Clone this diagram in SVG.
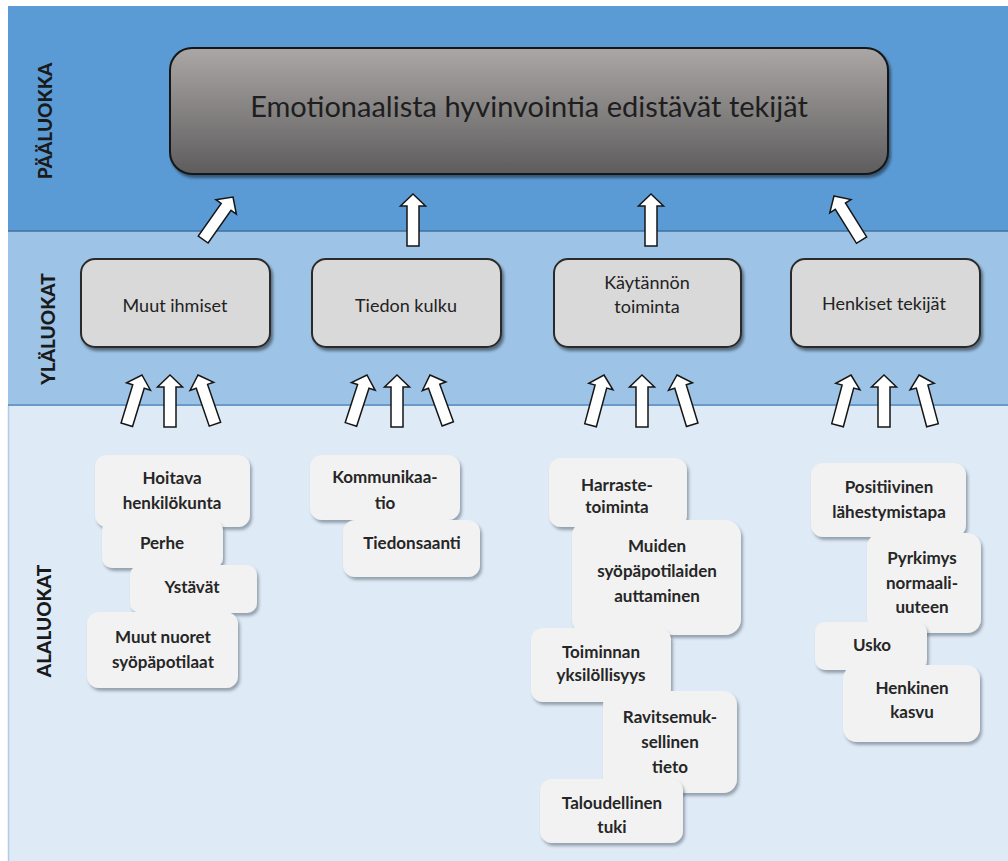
<svg xmlns="http://www.w3.org/2000/svg" width="1008" height="861" viewBox="0 0 1008 861">
<defs>
  <linearGradient id="gMain" x1="0" y1="0" x2="0" y2="1">
    <stop offset="0" stop-color="#aba7a6"/>
    <stop offset="1" stop-color="#5e5c5d"/>
  </linearGradient>
  <filter id="sh" x="-10%" y="-10%" width="130%" height="140%">
    <feDropShadow dx="2" dy="3" stdDeviation="1.5" flood-color="#000" flood-opacity="0.45"/>
  </filter>
  <filter id="sh2" x="-10%" y="-10%" width="130%" height="140%">
    <feDropShadow dx="2" dy="3" stdDeviation="1.6" flood-color="#3a4a5a" flood-opacity="0.45"/>
  </filter>
  <path id="arr" d="M0,0 L12.5,12 L6,12 L6,52 L-6,52 L-6,12 L-12.5,12 Z"/>
</defs>
<style>
  .lvl { font-family: Lato, "Liberation Sans", sans-serif; font-weight: 900; font-size: 19px; fill: #1a1a1a; text-anchor: middle; }
  .main { fill: url(#gMain); stroke: #161616; stroke-width: 2; filter: url(#sh); }
  .mid { fill: #d9d9d9; stroke: #2b2b2b; stroke-width: 2; filter: url(#sh); }
  .sub { fill: #f2f2f2; filter: url(#sh2); }
  .arrow { fill: #ffffff; stroke: #161616; stroke-width: 1.5; stroke-linejoin: miter; }
  .tmain { font-family: Lato, "Liberation Sans", sans-serif; font-size: 29px; fill: #1e1e1e; text-anchor: middle; }
  .tmid { font-family: Lato, "Liberation Sans", sans-serif; font-size: 18px; fill: #222; text-anchor: middle; }
  .tsub { font-family: Lato, "Liberation Sans", sans-serif; font-weight: bold; font-size: 17px; fill: #262626; text-anchor: middle; }
</style>

<g id="bands">
  <rect x="8" y="6" width="1000" height="225" fill="#5b9bd5"/>
  <rect x="8" y="231" width="1000" height="175" fill="#9dc3e6"/>
  <rect x="8" y="406" width="1000" height="455" fill="#deeaf6"/>
  <line x1="8" y1="231" x2="1008" y2="231" stroke="#41719c" stroke-width="1.5"/>
  <line x1="8" y1="405" x2="1008" y2="405" stroke="#5a8cc0" stroke-width="1.5"/>
  <line x1="8.5" y1="406" x2="8.5" y2="861" stroke="#b4cbe6" stroke-width="1.5"/>
  <text class="lvl" transform="translate(52,121) rotate(-90)">PÄÄLUOKKA</text>
  <text class="lvl" transform="translate(55,329) rotate(-90)">YLÄLUOKAT</text>
  <text class="lvl" transform="translate(51,621) rotate(-90)">ALALUOKAT</text>
</g>

<g id="connectors">
  <use href="#arr" class="arrow" transform="translate(233,197) rotate(35)"/>
  <use href="#arr" class="arrow" transform="translate(413,194)"/>
  <use href="#arr" class="arrow" transform="translate(651,194)"/>
  <use href="#arr" class="arrow" transform="translate(834,196) rotate(-32)"/>

  <use href="#arr" class="arrow" transform="translate(142,375) rotate(17)"/>
  <use href="#arr" class="arrow" transform="translate(170,375)"/>
  <use href="#arr" class="arrow" transform="translate(198,375) rotate(-19)"/>

  <use href="#arr" class="arrow" transform="translate(367,375) rotate(18)"/>
  <use href="#arr" class="arrow" transform="translate(397,375)"/>
  <use href="#arr" class="arrow" transform="translate(430,375) rotate(-20)"/>

  <use href="#arr" class="arrow" transform="translate(604,375) rotate(15)"/>
  <use href="#arr" class="arrow" transform="translate(642,375)"/>
  <use href="#arr" class="arrow" transform="translate(677,375) rotate(-17)"/>

  <use href="#arr" class="arrow" transform="translate(851,375) rotate(15)"/>
  <use href="#arr" class="arrow" transform="translate(884,375)"/>
  <use href="#arr" class="arrow" transform="translate(919,375) rotate(-15)"/>
</g>

<g id="n-main">
  <rect class="main" x="170" y="48" width="718" height="126" rx="22"/>
  <text class="tmain" x="529" y="117">Emotionaalista hyvinvointia edistävät tekijät</text>
</g>

<g id="n-muut-ihmiset">
  <rect class="mid" x="81" y="259" width="189" height="88" rx="14"/>
  <text class="tmid" x="175" y="312">Muut ihmiset</text>
</g>
<g id="n-tiedon-kulku">
  <rect class="mid" x="312" y="259" width="189" height="88" rx="14"/>
  <text class="tmid" x="406" y="312">Tiedon kulku</text>
</g>
<g id="n-kaytannon-toiminta">
  <rect class="mid" x="554" y="259" width="187" height="88" rx="14"/>
  <text class="tmid" x="647" y="289">Käytännön</text>
  <text class="tmid" x="647" y="313">toiminta</text>
</g>
<g id="n-henkiset-tekijat">
  <rect class="mid" x="791" y="259" width="189" height="88" rx="14"/>
  <text class="tmid" x="884" y="310">Henkiset tekijät</text>
</g>

<g id="n-hoitava">
  <rect class="sub" x="95" y="455" width="155" height="72" rx="12"/>
  <text class="tsub" x="172" y="484">Hoitava</text>
  <text class="tsub" x="172" y="509">henkilökunta</text>
</g>
<g id="n-perhe">
  <rect class="sub" x="102" y="520" width="121" height="48" rx="10"/>
  <text class="tsub" x="162" y="549">Perhe</text>
</g>
<g id="n-ystavat">
  <rect class="sub" x="130" y="565" width="127" height="48" rx="10"/>
  <text class="tsub" x="192" y="593">Ystävät</text>
</g>
<g id="n-muut-nuoret">
  <rect class="sub" x="87" y="612" width="151" height="76" rx="12"/>
  <text class="tsub" x="163" y="643">Muut nuoret</text>
  <text class="tsub" x="163" y="668">syöpäpotilaat</text>
</g>

<g id="n-kommunikaatio">
  <rect class="sub" x="310" y="455" width="150" height="65" rx="12"/>
  <text class="tsub" x="385" y="483">Kommunikaa-</text>
  <text class="tsub" x="385" y="509">tio</text>
</g>
<g id="n-tiedonsaanti">
  <rect class="sub" x="343" y="520" width="137" height="57" rx="12"/>
  <text class="tsub" x="412" y="549">Tiedonsaanti</text>
</g>

<g id="n-harrastetoiminta">
  <rect class="sub" x="549" y="458" width="138" height="69" rx="12"/>
  <text class="tsub" x="617" y="491">Harraste-</text>
  <text class="tsub" x="617" y="513">toiminta</text>
</g>
<g id="n-muiden-auttaminen">
  <rect class="sub" x="572" y="520" width="169" height="115" rx="16"/>
  <text class="tsub" x="657" y="552">Muiden</text>
  <text class="tsub" x="657" y="577">syöpäpotilaiden</text>
  <text class="tsub" x="657" y="602">auttaminen</text>
</g>
<g id="n-toiminnan-yksilollisyys">
  <rect class="sub" x="531" y="628" width="140" height="74" rx="12"/>
  <text class="tsub" x="601" y="658">Toiminnan</text>
  <text class="tsub" x="601" y="681">yksilöllisyys</text>
</g>
<g id="n-ravitsemuksellinen">
  <rect class="sub" x="603" y="691" width="134" height="102" rx="14"/>
  <text class="tsub" x="670" y="723">Ravitsemuk-</text>
  <text class="tsub" x="670" y="748">sellinen</text>
  <text class="tsub" x="670" y="773">tieto</text>
</g>
<g id="n-taloudellinen-tuki">
  <rect class="sub" x="540" y="779" width="143" height="64" rx="12"/>
  <text class="tsub" x="612" y="809">Taloudellinen</text>
  <text class="tsub" x="612" y="833">tuki</text>
</g>

<g id="n-positiivinen">
  <rect class="sub" x="811" y="463" width="155" height="74" rx="12"/>
  <text class="tsub" x="889" y="493">Positiivinen</text>
  <text class="tsub" x="889" y="518">lähestymistapa</text>
</g>
<g id="n-pyrkimys">
  <rect class="sub" x="867" y="533" width="114" height="100" rx="14"/>
  <text class="tsub" x="922" y="564">Pyrkimys</text>
  <text class="tsub" x="922" y="589">normaali-</text>
  <text class="tsub" x="922" y="613">uuteen</text>
</g>
<g id="n-usko">
  <rect class="sub" x="815" y="622" width="112" height="48" rx="10"/>
  <text class="tsub" x="872" y="651">Usko</text>
</g>
<g id="n-henkinen-kasvu">
  <rect class="sub" x="843" y="665" width="137" height="77" rx="14"/>
  <text class="tsub" x="912" y="694">Henkinen</text>
  <text class="tsub" x="912" y="718">kasvu</text>
</g>
</svg>
